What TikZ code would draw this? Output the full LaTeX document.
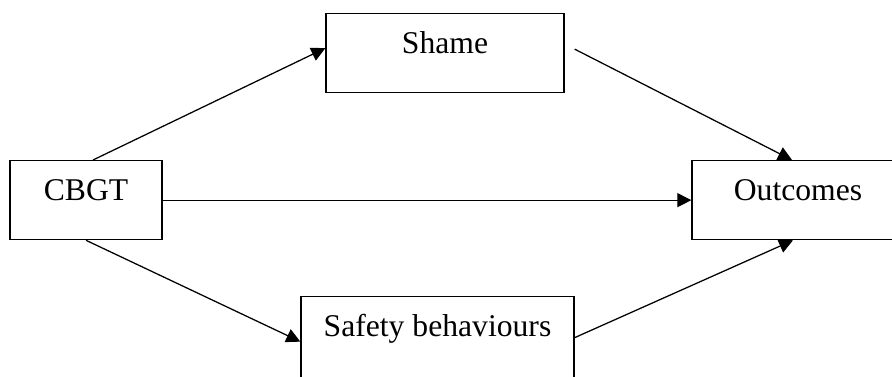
\documentclass[tikz,border=0pt]{standalone}
\usepackage{fontspec}
\setmainfont{Liberation Serif}
\usetikzlibrary{arrows.meta}

\begin{document}
\begin{tikzpicture}[x=0.025cm, y=-0.025cm, line width=0.9pt,
	box/.style={draw, inner sep=0pt, anchor=north, text height=1cm, text depth=0.975cm, font=\fontsize{22.5}{27}\selectfont},
	link/.style={-{Triangle[length=0.35cm, width=0.35cm]}}]
\useasboundingbox (0,0) rectangle (892,376);
\clip (0,0) rectangle (892,376);
\node[box, minimum width=3.8cm] (cbgt) at (86,160) {CBGT};
\node[box, minimum width=5.95cm] (shame) at (445,13) {Shame};
\node[box, minimum width=5.3cm] (outcomes) at (798,160) {Outcomes};
\node[box, minimum width=6.825cm, text depth=1.25cm] (safety) at (437.5,296) {Safety behaviours};
\draw[link] ([xshift=0.175cm]cbgt.north) -- ([yshift=0.125cm]shame.west);
\draw[link] ([xshift=0.25cm, yshift=0.1cm]shame.east) -- ([xshift=-0.15cm]outcomes.north);
\draw[link] (cbgt.east) -- (outcomes.west);
\draw[link] (cbgt.south) -- (safety.west);
\draw[link] ([yshift=0.1cm]safety.east) -- ([xshift=-0.125cm]outcomes.south);
\end{tikzpicture}
\end{document}
